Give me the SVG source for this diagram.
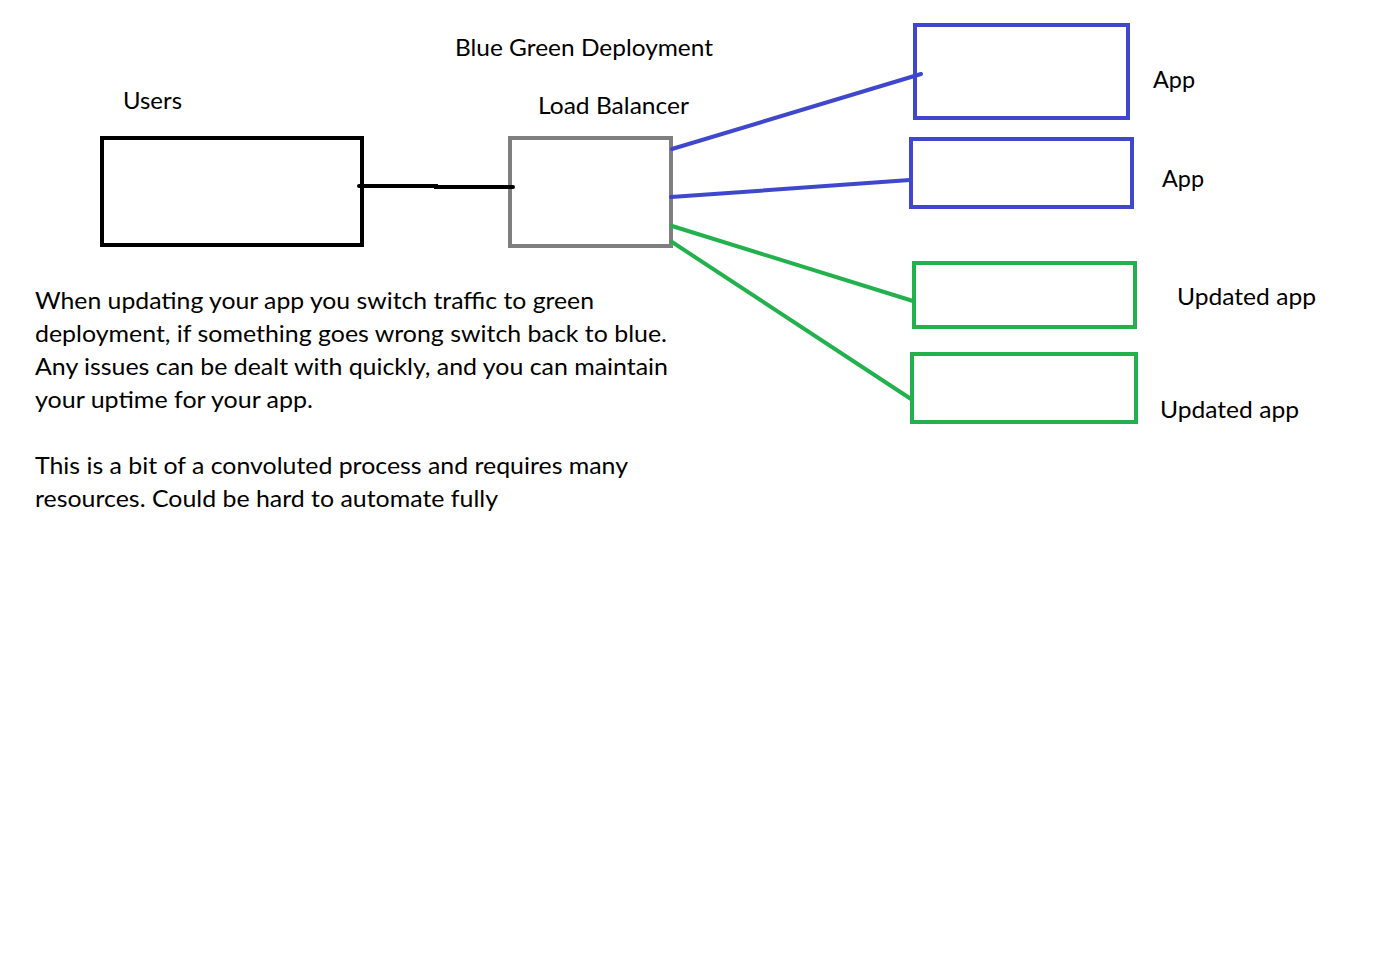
<svg xmlns="http://www.w3.org/2000/svg" width="1382" height="970" viewBox="0 0 1382 970">
<style>
text{font-family:Lato,"Open Sans","Liberation Sans",sans-serif;font-size:24px;fill:#000}
.box{fill:none;stroke-width:4}
.blue{stroke:#3f48cc}
.green{stroke:#22b14c}
.conn{fill:none;stroke-width:4;stroke-linecap:round}
</style>
<rect width="1382" height="970" fill="#fff"/>
<text x="455" y="56" textLength="258" lengthAdjust="spacingAndGlyphs">Blue Green Deployment</text>
<g id="users">
<rect class="box" x="102" y="138" width="260" height="107" stroke="#000"/>
<text x="123" y="109" textLength="59" lengthAdjust="spacingAndGlyphs">Users</text>
</g>
<g id="load-balancer">
<rect class="box" x="510" y="138" width="161" height="108" stroke="#7f7f7f"/>
<text x="538" y="114" textLength="151" lengthAdjust="spacingAndGlyphs">Load Balancer</text>
</g>
<g id="app1">
<rect class="box blue" x="915" y="25" width="213" height="93"/>
<text x="1153" y="88" textLength="42" lengthAdjust="spacingAndGlyphs">App</text>
</g>
<g id="app2">
<rect class="box blue" x="911" y="139" width="221" height="68"/>
<text x="1162" y="187" textLength="42" lengthAdjust="spacingAndGlyphs">App</text>
</g>
<g id="updated1">
<rect class="box green" x="914" y="263" width="221" height="64"/>
<text x="1177" y="305" textLength="139" lengthAdjust="spacingAndGlyphs">Updated app</text>
</g>
<g id="updated2">
<rect class="box green" x="912" y="354" width="224" height="68"/>
<text x="1160" y="418" textLength="139" lengthAdjust="spacingAndGlyphs">Updated app</text>
</g>
<g id="connectors">
<polyline class="conn" points="359,186 436,186 436,187 513,187" stroke="#000" stroke-width="3.5"/>
<line class="conn blue" x1="672" y1="149" x2="921" y2="74"/>
<line class="conn blue" x1="671" y1="197" x2="910" y2="180"/>
<line class="conn green" x1="672" y1="226" x2="913" y2="301"/>
<line class="conn green" x1="672" y1="242" x2="911" y2="399"/>
</g>
<g id="notes">
<text x="35" y="309" textLength="559" lengthAdjust="spacingAndGlyphs">When updating your app you switch traffic to green</text>
<text x="35" y="342" textLength="632" lengthAdjust="spacingAndGlyphs">deployment, if something goes wrong switch back to blue.</text>
<text x="35" y="375" textLength="633" lengthAdjust="spacingAndGlyphs">Any issues can be dealt with quickly, and you can maintain</text>
<text x="35" y="408" textLength="278" lengthAdjust="spacingAndGlyphs">your uptime for your app.</text>
<text x="35" y="474" textLength="593" lengthAdjust="spacingAndGlyphs">This is a bit of a convoluted process and requires many</text>
<text x="35" y="507" textLength="463" lengthAdjust="spacingAndGlyphs">resources. Could be hard to automate fully</text>
</g>
</svg>
